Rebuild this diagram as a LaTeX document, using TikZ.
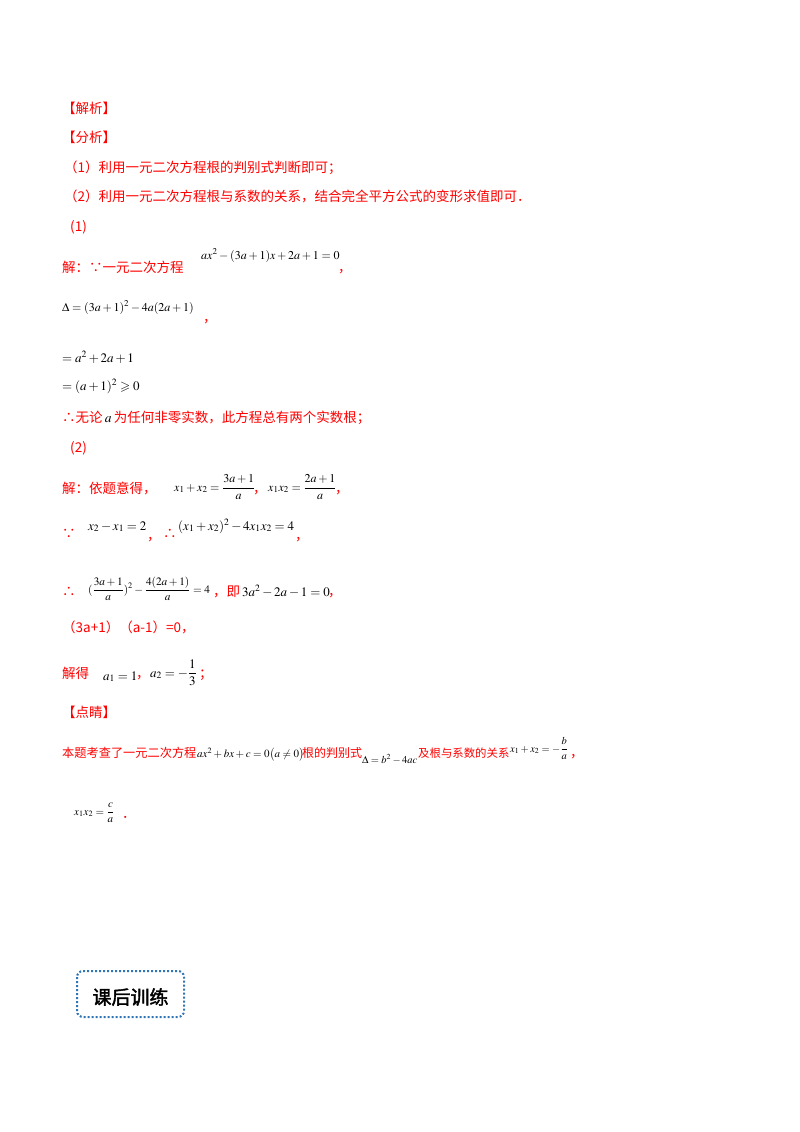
\documentclass[tikz,border=0pt]{standalone}
\usepackage{amsmath,amssymb}
\usepackage{mathptmx}
\usepackage{fontspec}
\setmainfont{Liberation Serif}
\newfontfamily\cjk{Noto Sans CJK SC}
\newfontfamily\cjkb{Noto Sans CJK SC}[FakeBold=2]
\usepackage{xcolor}
\definecolor{rd}{HTML}{FF0000}
\definecolor{bx}{HTML}{2E75B6}
\newcommand{\fs}[1]{\fontsize{#1}{#1}\selectfont}
\begin{document}
\begin{tikzpicture}[x=1pt,y=-1pt,
  t/.style={anchor=base west,inner sep=0pt,text=rd,font=\cjk\fs{13.5}},
  ts/.style={anchor=base west,inner sep=0pt,text=rd,font=\cjk\fs{12.2}},
  m/.style={anchor=base west,inner sep=0pt,text=black,font=\fs{12}}]
\useasboundingbox (0,0) rectangle (800,1132);
\node[t] (l1) at (62,113) {【解析】};
\node[t] (l2) at (62,142) {【分析】};
\node[t] (l3) at (64,172) {（1）利用一元二次方程根的判别式判断即可；};
\node[t] (l4) at (64,201) {（2）利用一元二次方程根与系数的关系，结合完全平方公式的变形求值即可．};
\node[t] (l5) at (70,231) {(1)};
\node[t] (l6) at (62,272) {解：∵一元二次方程};
\node[m] (m6) at (201,259) {$ax^2-(3a+1)x+2a+1=0$};
\node[t] (c6) at (338,272) {，};
\node[m] (m7) at (62,311) {$\Delta=(3a+1)^2-4a(2a+1)$};
\node[t] (c7) at (203,322) {，};
\node[m,font=\fs{13}] (m8) at (62,362) {$=a^2+2a+1$};
\node[m,font=\fs{13}] (m9) at (62,390) {$=(a+1)^2\geqslant 0$};
\node[t] (l10) at (62,422) {∴无论\,\textcolor{black}{$a$}\,为任何非零实数，此方程总有两个实数根；};
\node[t] (l11) at (70,452) {(2)};
\node[t] (l12) at (62,493) {解：依题意得，};
\node[m] (m12) at (174,491) {$x_1+x_2=\dfrac{3a+1}{a}$};
\node[t] (c12) at (253,493) {，};
\node[m] (m12b) at (268,491) {$x_1x_2=\dfrac{2a+1}{a}$};
\node[t] (c12b) at (335,493) {，};
\node[t] (l13) at (62,538) {∵};
\node[m,font=\fs{13}] (m13) at (88,530) {$x_2-x_1=2$};
\node[t] (c13) at (147,540) {，};
\node[t] (l13b) at (163,538) {∴};
\node[m,font=\fs{13}] (m13b) at (178,530) {$(x_1+x_2)^2-4x_1x_2=4$};
\node[t] (c13b) at (295,540) {，};
\node[t] (l14) at (62,596) {∴};
\node[m,font=\fs{11.3}] (m14) at (88,593) {$(\dfrac{3a+1}{a})^2-\dfrac{4(2a+1)}{a}=4$};
\node[t] (l14b) at (213,596) {，即};
\node[m,font=\fs{13}] (m14b) at (242,596) {$3a^2-2a-1=0$};
\node[t] (c14) at (328,596) {，};
\node[t] (l15) at (62,632) {（3\textit{a}+1）（\textit{a}-1）=0，};
\node[t] (l16) at (62,678) {解得};
\node[m,font=\fs{13}] (m16) at (103,680) {$a_1=1$};
\node[t] (c16) at (136,678) {，};
\node[m,font=\fs{13}] (m16b) at (150,677) {$a_2=-\dfrac{1}{3}$};
\node[t] (c16b) at (199,678) {；};
\node[t] (l17) at (62,717) {【点睛】};
\node[ts] (l18) at (62,757) {本题考查了一元二次方程};
\node[m,font=\fs{11}] (m18) at (197,757) {$ax^2+bx+c=0\bigl(a\neq0\bigr)$};
\node[ts,font=\cjk\fs{12}] (l18b) at (302,757) {根的判别式};
\node[m,font=\fs{10.5}] (m18b) at (362,763) {$\Delta=b^2-4ac$};
\node[ts,font=\cjk\fs{11.4}] (l18c) at (418,757) {及根与系数的关系};
\node[m,font=\fs{10.5}] (m18c) at (510,752) {$x_1+x_2=-\dfrac{b}{a}$};
\node[t] (c18) at (570,757) {，};
\node[m,font=\fs{11}] (m19) at (74,815) {$x_1x_2=\dfrac{c}{a}$};
\node[t] (c19) at (122,818) {．};
\draw[bx,line width=2pt,dotted,rounded corners=6pt] (77,971) rectangle (184,1017);
\node[anchor=center,inner sep=0pt,font=\cjkb\fs{19}] (box) at (130.5,997) {课后训练};
\end{tikzpicture}
\end{document}
